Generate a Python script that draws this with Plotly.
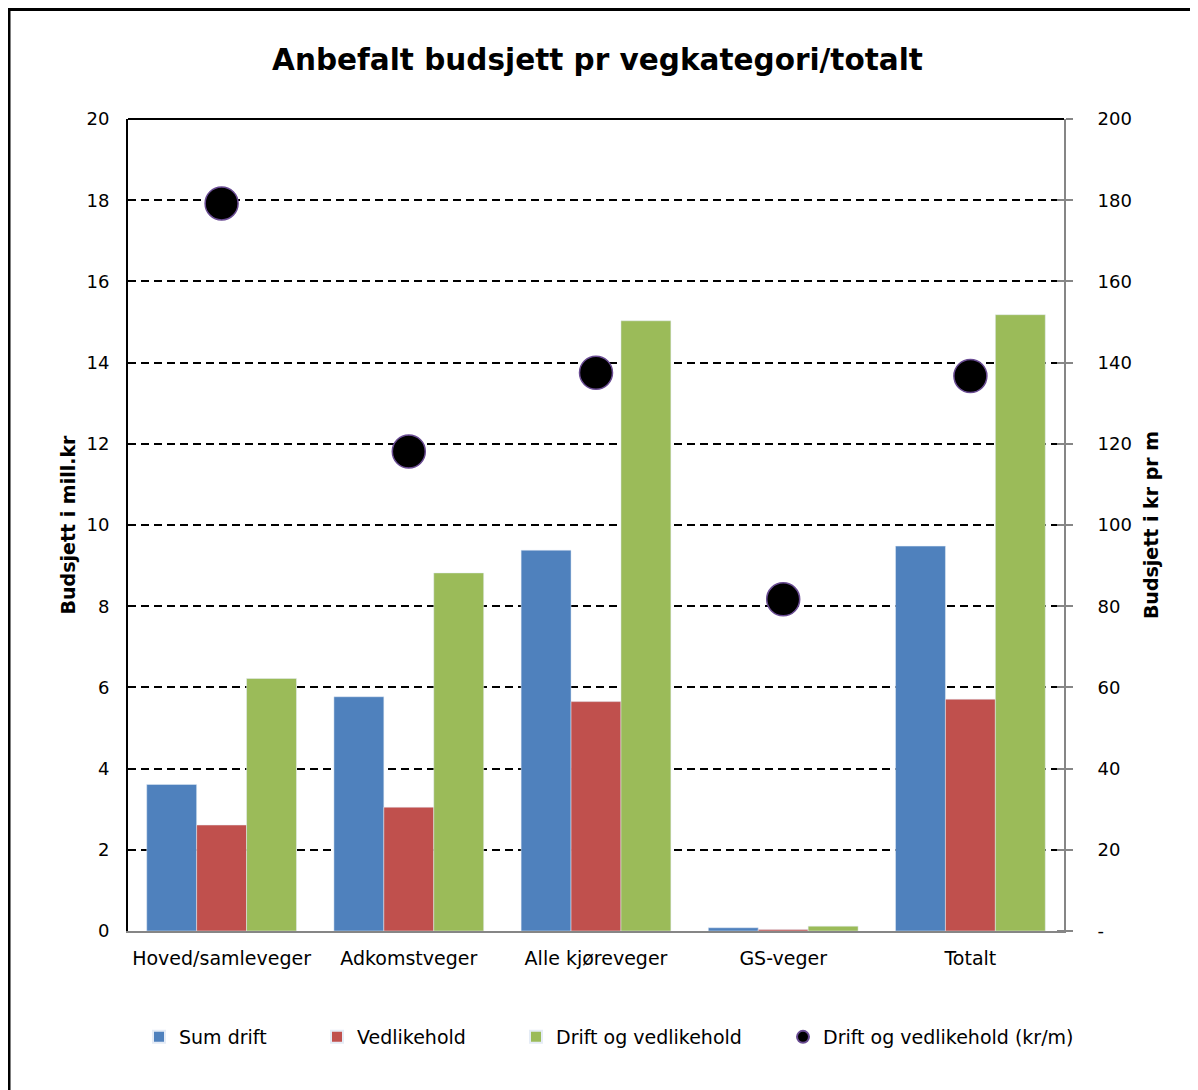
import plotly.graph_objects as go

categories = ["Hoved/samleveger", "Adkomstveger", "Alle kjøreveger", "GS-veger", "Totalt"]
sum_drift = [3.61, 5.77, 9.38, 0.08, 9.48]
vedlikehold = [2.61, 3.05, 5.65, 0.04, 5.71]
drift_og_vedlikehold = [6.22, 8.82, 15.03, 0.12, 15.18]
kr_per_m = [179.2, 118.1, 137.5, 81.7, 136.7]

left_ticks = [0, 2, 4, 6, 8, 10, 12, 14, 16, 18, 20]
right_ticks = [0, 20, 40, 60, 80, 100, 120, 140, 160, 180, 200]
right_ticktext = ["-"] + [str(v) for v in right_ticks[1:]]

FONT = "DejaVu Sans"
OFF = 8  # browser body margin
W, H = 1198 - OFF, 1090 - OFF
L, R, T, B = 128 - OFF, 1198 - 1064, 119 - OFF, 1090 - 931
pw, ph = W - L - R, H - T - B


def px_x(x):
    return (x - OFF - L) / pw


def px_y(y):
    return (931 - y) / ph


fig = go.Figure()
fig.add_trace(go.Bar(name="Sum drift", x=categories, y=sum_drift, marker_color="#4F81BD",
                     legend="legend"))
fig.add_trace(go.Bar(name="Vedlikehold", x=categories, y=vedlikehold, marker_color="#C0504D",
                     legend="legend2"))
fig.add_trace(go.Bar(name="Drift og vedlikehold", x=categories, y=drift_og_vedlikehold, marker_color="#9BBB59",
                     legend="legend3"))
fig.add_trace(go.Scatter(name="Drift og vedlikehold (kr/m)", x=categories, y=kr_per_m, yaxis="y2",
                         mode="markers", legend="legend4",
                         marker=dict(size=33, color="black", line=dict(color="#6A4C93", width=1.5))))

legend_common = dict(orientation="h", xanchor="left", y=px_y(1037), yanchor="middle",
                     font=dict(size=19), itemsizing="constant", bgcolor="rgba(0,0,0,0)")

fig.update_layout(
    width=W, height=H,
    margin=dict(l=L, r=R, t=T, b=B, pad=0),
    paper_bgcolor="white", plot_bgcolor="white",
    font=dict(family=FONT, size=18, color="black"),
    title=dict(text="<b>Anbefalt budsjett pr vegkategori/totalt</b>", xref="container",
               x=(597.5 - OFF) / W, xanchor="center",
               y=1 - (60 - OFF) / H, yanchor="middle", font=dict(size=29.5, family=FONT)),
    barmode="group", bargap=0.2, bargroupgap=0,
    showlegend=True,
    legend=dict(x=px_x(139), **legend_common),
    legend2=dict(x=px_x(317), **legend_common),
    legend3=dict(x=px_x(516), **legend_common),
    legend4=dict(x=px_x(783), **legend_common),
    xaxis=dict(showline=True, linecolor="#868686", linewidth=2, ticks="", showgrid=False,
               tickfont=dict(size=19), ticklabelstandoff=9),
    yaxis=dict(range=[0, 20], tickvals=left_ticks, showline=True, linecolor="black", linewidth=2,
               showgrid=True, gridcolor="black", gridwidth=1.5, griddash="8px,5px",
               zeroline=False, ticks="", ticklabelstandoff=13,
               title=dict(text="<b>Budsjett i mill.kr</b>", font=dict(size=19), standoff=6)),
    yaxis2=dict(range=[0, 200], tickvals=right_ticks, ticktext=right_ticktext, overlaying="y", side="right",
                showline=True, linecolor="#868686", linewidth=2, showgrid=False, zeroline=False,
                ticks="outside", ticklen=7, tickcolor="#868686", tickwidth=2, ticklabelstandoff=21,
                minor=dict(tickvals=right_ticks, ticks="inside", ticklen=7, tickcolor="#868686",
                           tickwidth=2, showgrid=False),
                title=dict(text="<b>Budsjett i kr pr m</b>", font=dict(size=19), standoff=14)),
)

# top border of plot area
fig.add_shape(type="line", xref="paper", yref="paper", x0=0, x1=1, y0=1, y1=1,
              line=dict(color="black", width=2))
# outer frame
fig.add_shape(type="rect", xref="paper", yref="paper",
              x0=px_x(9), x1=px_x(1196), y0=px_y(1100), y1=px_y(9.5),
              line=dict(color="black", width=3), fillcolor="rgba(0,0,0,0)", layer="above")

fig.write_html("out.html")
